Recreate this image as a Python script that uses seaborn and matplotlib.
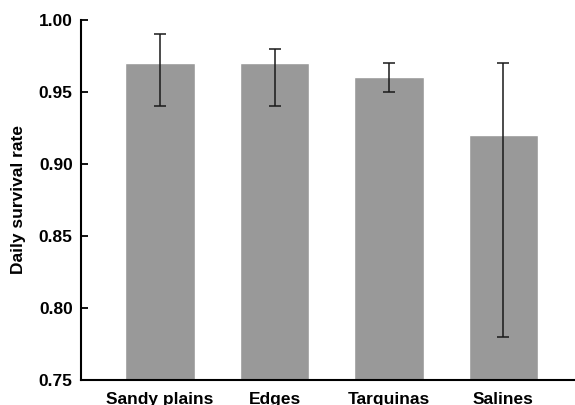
import matplotlib
matplotlib.use("Agg")
import matplotlib.pyplot as plt
import seaborn as sns
import numpy as np
import pandas as pd

sns.set_style("white")
plt.rcParams['font.family'] = ['Liberation Sans', 'DejaVu Sans']
plt.rcParams['font.weight'] = 'bold'
plt.rcParams['text.color'] = 'black'
plt.rcParams['axes.labelcolor'] = 'black'
plt.rcParams['xtick.color'] = 'black'
plt.rcParams['ytick.color'] = 'black'

habitats = ["Sandy plains", "Edges", "Tarquinas", "Salines"]
survival = [0.97, 0.97, 0.96, 0.92]
lower = [0.94, 0.94, 0.95, 0.78]
upper = [0.99, 0.98, 0.97, 0.97]

df = pd.DataFrame({"habitat": habitats, "survival": survival})

fig = plt.figure(figsize=(5.75, 4.05), dpi=100)
ax = fig.add_axes([0.141, 0.062, 0.87, 0.889])

sns.barplot(data=df, x="habitat", y="survival", color="#999999",
            saturation=1, width=0.61, errorbar=None, ax=ax)

yerr = np.array([np.array(survival) - np.array(lower),
                 np.array(upper) - np.array(survival)])
ax.errorbar(np.arange(len(habitats)), survival, yerr=yerr, fmt='none',
            ecolor='#1a1a1a', elinewidth=1.1, capsize=4, capthick=1.1)

ax.set_ylim(0.75, 1.00)
ax.set_xlim(-0.69, 3.68)
ax.set_yticks([0.75, 0.80, 0.85, 0.90, 0.95, 1.00])
ax.set_yticklabels([f"{v:.2f}" for v in [0.75, 0.80, 0.85, 0.90, 0.95, 1.00]],
                   fontsize=12.5, fontweight='bold')
ax.set_xticks(range(len(habitats)))
ax.set_xticklabels(habitats, fontsize=12.5, fontweight='bold')
ax.tick_params(axis='y', direction='in', length=5, width=1.3, pad=6, left=True)
ax.tick_params(axis='x', length=0, pad=8.5)
ax.set_xlabel("")
ax.set_ylabel("Daily survival rate", fontsize=12.5, fontweight='bold', labelpad=9)

for s in ['top', 'right']:
    ax.spines[s].set_visible(False)
for s in ['left', 'bottom']:
    ax.spines[s].set_linewidth(1.5)
    ax.spines[s].set_color('black')

fig.savefig("out.png", dpi=100)
